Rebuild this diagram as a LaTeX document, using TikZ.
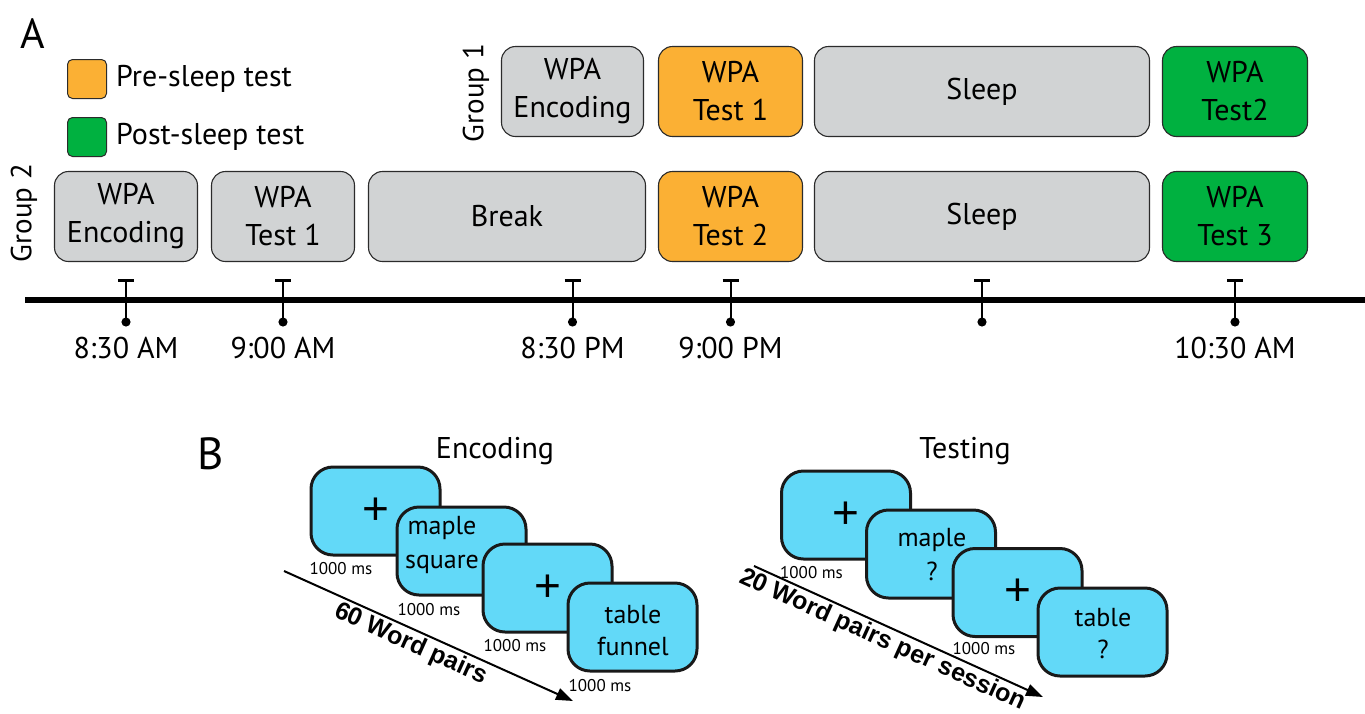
\documentclass[tikz,border=0pt]{standalone}
\usepackage{fontspec}
\setmainfont{PT Sans}
\newfontfamily\heavyfont{Liberation Sans}
\newfontfamily\plusfont{Liberation Sans}
\usetikzlibrary{arrows.meta,calc}
\newcommand{\fsz}[2]{\fontsize{#1pt}{#2pt}\selectfont}
\definecolor{boxgray}{HTML}{D1D3D4}
\definecolor{preorange}{HTML}{FBB034}
\definecolor{postgreen}{HTML}{00B140}
\definecolor{screencyan}{HTML}{62D9F8}
\definecolor{edgegray}{HTML}{2B2B2B}
\begin{document}
\begin{tikzpicture}[x=1pt,y=-1pt,
  phase/.style={draw=edgegray, line width=1.1pt, rounded corners=14pt, minimum height=90pt,
    inner sep=0pt, align=center, font=\fsz{30}{38}},
  grayph/.style={phase, fill=boxgray},
  orangeph/.style={phase, fill=preorange},
  greenph/.style={phase, fill=postgreen},
  legsq/.style={draw=edgegray, line width=1pt, rounded corners=5pt, minimum width=39pt, minimum height=39pt, inner sep=0pt},
  legtext/.style={anchor=west, inner sep=0pt, font=\fsz{30}{32}},
  grouplbl/.style={rotate=90, inner sep=0pt, font=\fsz{29}{32}},
  panel/.style={inner sep=0pt, font=\fsz{42}{46}},
  timelabel/.style={inner sep=0pt, font=\fsz{30}{32}},
  tickmark/.style={line width=2pt, {Bar[width=16pt,line width=3pt]}-{Circle[length=9pt]}},
  screen/.style={draw=black!90, line width=3pt, fill=screencyan, rounded corners=22pt,
    minimum width=129pt, minimum height=88pt, inner sep=0pt},
  scrtext/.style={inner sep=0pt, align=center, font=\fsz{26}{34}},
  plus/.style={inner sep=0pt, font=\plusfont\fsz{46}{46}},
  mslabel/.style={anchor=west, inner sep=0pt, font=\fsz{17}{20}},
  title/.style={inner sep=0pt, font=\fsz{30}{32}},
  seqarrow/.style={line width=2pt, -{Triangle[length=17pt,width=12pt]}},
  seqtext/.style={sloped, below=2pt, inner sep=0pt, font=\heavyfont\bfseries\fsz{25}{28}}
]
\useasboundingbox (0,0) rectangle (1365,713);

% ---------- Panel A ----------
\node[panel] (lblA) at (33,34) {A};

\node[legsq, fill=preorange] (legpre) at (87,79) {};
\node[legtext] (legpretxt) at (116,79) {Pre-sleep test};
\node[legsq, fill=postgreen] (legpost) at (87,137) {};
\node[legtext] (legposttxt) at (116,137) {Post-sleep test};

\node[grouplbl] (grp1) at (476,93) {Group 1};
\node[grouplbl] (grp2) at (24,213) {Group 2};

% Group 1
\node[grayph, minimum width=142pt] (g1enc) at (572.5,91.5) {WPA\\Encoding};
\node[orangeph, minimum width=144pt] (g1t1) at (730.5,91.5) {WPA\\Test 1};
\node[grayph, minimum width=335pt] (g1sleep) at (982,91.5) {Sleep};
\node[greenph, minimum width=145pt] (g1t2) at (1235,91.5) {WPA\\Test2};

% Group 2
\node[grayph, minimum width=143pt] (g2enc) at (126,216.5) {WPA\\Encoding};
\node[grayph, minimum width=143pt] (g2t1) at (283,216.5) {WPA\\Test 1};
\node[grayph, minimum width=277pt] (g2break) at (507,216.5) {Break};
\node[orangeph, minimum width=144pt] (g2t2) at (730.5,216.5) {WPA\\Test 2};
\node[grayph, minimum width=335pt] (g2sleep) at (982,216.5) {Sleep};
\node[greenph, minimum width=145pt] (g2t3) at (1235,216.5) {WPA\\Test 3};

% timeline
\coordinate (tlL) at (25,300);
\coordinate (tlR) at (1365,300);
\draw[line width=5.5pt] (tlL) -- (tlR);
\coordinate (tickTop) at (0,279);
\coordinate (tickBot) at (0,326.5);
\coordinate (timeY) at (0,348);
\foreach \n in {g2enc,g2t1,g1enc,g2t2,g2sleep,g2t3}{
  \draw[tickmark] (\n |- tickTop) -- (\n |- tickBot);
}
\node[timelabel] (t1) at (g2enc |- timeY) {8:30 AM};
\node[timelabel] (t2) at (g2t1 |- timeY) {9:00 AM};
\node[timelabel] (t3) at (g1enc |- timeY) {8:30 PM};
\node[timelabel] (t4) at (g2t2 |- timeY) {9:00 PM};
\node[timelabel] (t6) at (g2t3 |- timeY) {10:30 AM};

% ---------- Panel B ----------
\node[panel, font=\fsz{45}{48}] (lblB) at (211,454) {B};
\node[title] (encT) at (495,451) {Encoding};
\node[title] (testT) at (965,451) {Testing};

% Encoding sequence
\coordinate (ea1) at (284,571);
\coordinate (ea2) at (573,701);
\draw[seqarrow] (ea1) -- node[seqtext, pos=0.46] (encnum) {60 Word pairs} (ea2);

\node[screen] (es1) at (375.5,511) {};
\node[plus] (es1t) at (es1) {+};
\node[mslabel] (es1ms) at ([yshift=-12pt]es1.south west) {1000 ms};
\node[screen] (es2) at (461.5,551) {};
\node[scrtext] (es2t) at (442,545) {maple\\square};
\node[mslabel] (es2ms) at ([xshift=2pt,yshift=-13pt]es2.south west) {1000 ms};
\node[screen] (es3) at (547.5,588) {};
\node[plus] (es3t) at (es3) {+};
\node[mslabel] (es3ms) at ([xshift=2pt,yshift=-12pt]es3.south west) {1000 ms};
\node[screen] (es4) at (632.5,627) {};
\node[scrtext, font=\fsz{26}{32}] (es4t) at (633,631) {table\\funnel};
\node[mslabel] (es4ms) at ([xshift=2pt,yshift=-13pt]es4.south west) {1000 ms};

% Testing sequence
\coordinate (ta1) at (754,566);
\coordinate (ta2) at (1043,697);
\draw[seqarrow] (ta1) -- node[seqtext, pos=0.465] (testnum) {20 Word pairs per session} (ta2);

\node[screen] (ts1) at (846,515) {};
\node[plus] (ts1t) at (ts1) {+};
\node[mslabel] (ts1ms) at ([yshift=-12pt]ts1.south west) {1000 ms};
\node[screen] (ts2) at (931,554) {};
\node[scrtext] (ts2t) at (932,555) {maple\\?};
\node[screen] (ts3) at (1017.5,592.5) {};
\node[plus] (ts3t) at (ts3) {+};
\node[mslabel] (ts3ms) at ([xshift=1pt,yshift=-11pt]ts3.south west) {1000 ms};
\node[screen] (ts4) at (1102.5,632) {};
\node[scrtext, font=\fsz{26}{32}] (ts4t) at (1103,634) {table\\?};
\end{tikzpicture}
\end{document}
